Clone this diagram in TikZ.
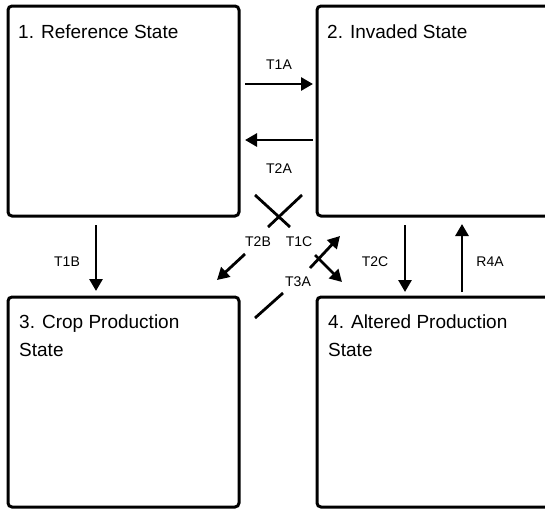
\documentclass[tikz,border=0pt]{standalone}
\usepackage{fontspec}
\setmainfont{Liberation Sans}
\usetikzlibrary{positioning, calc, arrows.meta}

\begin{document}
\begin{tikzpicture}[x=1pt, y=-1pt,
    statebox/.style={draw, line width=3pt, rounded corners=4pt, minimum width=231pt, minimum height=210pt, inner sep=0pt, outer sep=0pt},
    statetitle/.style={anchor=north west, inner sep=0pt, align=left, font=\fontsize{19}{28}\selectfont},
    trans/.style={line width=2.8pt, -{Triangle[length=12pt, width=13pt]}},
    transcut/.style={line width=2.8pt},
    translabel/.style={inner sep=1pt, font=\fontsize{14}{16}\selectfont}]
    \useasboundingbox (0,0) rectangle (545,509);
    % states
    \node[statebox, anchor=north west] (s1) at (8,6) {};
    \node[statebox, minimum width=250pt, right=78pt of s1] (s2) {};
    \node[statebox, below=81pt of s1] (s3) {};
    \node[statebox, minimum width=250pt, right=78pt of s3] (s4) {};
    \node[statetitle] (t1) at ($(s1.north west)+(10,19)$) {1. Reference State};
    \node[statetitle] (t2) at ($(s2.north west)+(10,19)$) {2. Invaded State};
    \node[statetitle] (t3) at ($(s3.north west)+(11,18)$) {3. Crop Production\\State};
    \node[statetitle] (t4) at ($(s4.north west)+(11,18)$) {4. Altered Production\\State};
    % transitions between states
    \draw[trans] ($(s1.north east)+(6,78)$) -- ($(s2.north west)+(-4,78)$);
    \draw[trans] ($(s2.north west)+(-4,134)$) -- ($(s1.north east)+(6,134)$);
    \draw[trans] ($(s1.south west)+(88,9)$) -- ($(s3.north west)+(88,-6)$);
    \draw[trans] ($(s2.south west)+(88,9)$) -- ($(s4.north west)+(88,-5)$);
    \draw[trans] ($(s4.north west)+(145,-5)$) -- ($(s2.south west)+(145,8)$);
    % crossing transitions, broken where the labels sit
    \draw[transcut] ($(s2.south west)+(-15,-21)$) -- ($(s2.south west)+(-49,11)$);
    \draw[trans] ($(s3.north east)+(6,-43)$) -- ($(s3.north east)+(-22,-17)$);
    \draw[transcut] ($(s1.south east)+(16,-21)$) -- ($(s1.south east)+(51,11)$);
    \draw[trans] ($(s4.north west)+(-2,-42)$) -- ($(s4.north west)+(25,-15)$);
    \draw[transcut] ($(s3.north east)+(16,21)$) -- ($(s3.north east)+(44,-4)$);
    \draw[trans] ($(s2.south west)+(-7,52)$) -- ($(s2.south west)+(23,20)$);
    % labels
    \node[translabel] (l1a) at (279,65) {T1A};
    \node[translabel] (l2a) at (279,169) {T2A};
    \node[translabel] (l1b) at (67,262) {T1B};
    \node[translabel] (l2c) at (375,262) {T2C};
    \node[translabel] (l4a) at (490,262) {R4A};
    \node[translabel] (l2b) at (258,242) {T2B};
    \node[translabel] (l1c) at (299,242) {T1C};
    \node[translabel] (l3a) at (298,282) {T3A};
\end{tikzpicture}
\end{document}
